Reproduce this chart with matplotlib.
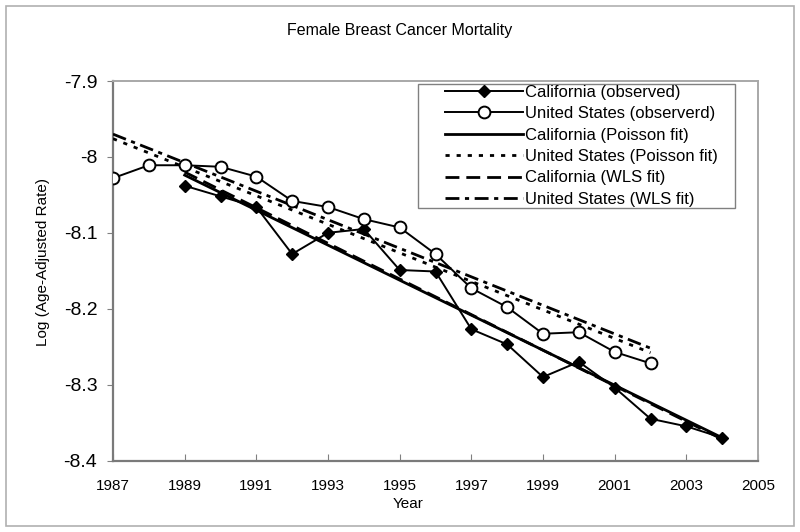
import numpy as np
import matplotlib
matplotlib.use("Agg")
import matplotlib.pyplot as plt
from matplotlib.patches import Rectangle

plt.rcParams['font.family'] = ['Liberation Sans', 'DejaVu Sans']

# observed log age-adjusted rates
us_years = [1987, 1988, 1989, 1990, 1991, 1992, 1993, 1994, 1995, 1996,
            1997, 1998, 1999, 2000, 2001, 2002]
us_obs = [-8.028, -8.011, -8.011, -8.013, -8.026, -8.058, -8.066, -8.082,
          -8.093, -8.128, -8.173, -8.198, -8.233, -8.231, -8.257, -8.272]

ca_years = [1989, 1990, 1991, 1992, 1993, 1994, 1995, 1996, 1997, 1998,
            1999, 2000, 2001, 2002, 2003, 2004]
ca_obs = [-8.038, -8.052, -8.066, -8.128, -8.100, -8.095, -8.149, -8.151,
          -8.227, -8.247, -8.290, -8.270, -8.304, -8.345, -8.355, -8.370]

# fitted lines (straight on the log scale), end points
us_fit_years = [1987, 2002]
us_poisson = [-7.976, -8.258]
us_wls = [-7.970, -8.252]
ca_fit_years = [1989, 2004]
ca_poisson = [-8.024, -8.370]
ca_wls = [-8.020, -8.372]

W, H = 800, 532
fig = plt.figure(figsize=(8, 5.32), dpi=100)
ax = fig.add_axes([113 / W, 1 - 460.5 / H, 645 / W, 379.5 / H])

ax.plot(ca_years, ca_obs, color='black', lw=1.4, marker='D', ms=6.5,
        mfc='black', mec='black', label='California (observed)', zorder=4)
ax.plot(us_years, us_obs, color='black', lw=1.4, marker='o', ms=8.5,
        mfc='white', mec='black', mew=1.4, label='United States (observerd)', zorder=5)
ax.plot(ca_fit_years, ca_poisson, color='black', lw=2.0, ls='-',
        label='California (Poisson fit)', zorder=3)
ax.plot(us_fit_years, us_poisson, color='black', lw=2.0, ls=(0, (1.5, 2.5)),
        label='United States (Poisson fit)', zorder=3)
ax.plot(ca_fit_years, ca_wls, color='black', lw=2.0, ls=(0, (5, 2.5)),
        label='California (WLS fit)', zorder=3)
ax.plot(us_fit_years, us_wls, color='black', lw=2.0, ls=(0, (5, 2, 1.5, 2)),
        label='United States (WLS fit)', zorder=3)

ax.set_xlim(1987, 2005)
ax.set_ylim(-8.4, -7.9)
ax.set_xticks(np.arange(1987, 2006, 2))
ax.set_yticks([-7.9, -8.0, -8.1, -8.2, -8.3, -8.4])
ax.set_yticklabels(['-7.9', '-8', '-8.1', '-8.2', '-8.3', '-8.4'])
ax.tick_params(axis='x', direction='in', length=5, labelsize=11, pad=13, color='#808080')
ax.tick_params(axis='y', direction='out', length=4.3, labelsize=14, pad=7, color='#808080')

for side in ['left', 'bottom']:
    ax.spines[side].set_color('#7a7a7a')
    ax.spines[side].set_linewidth(1.6)
for side in ['top', 'right']:
    ax.spines[side].set_color('#a8a8a8')
    ax.spines[side].set_linewidth(1.4)

ax.set_xlabel('Year', fontsize=11, va='center')
ax.xaxis.set_label_coords(0.457, -0.115)
ax.set_ylabel('Log (Age-Adjusted Rate)', fontsize=11, va='center')
ax.yaxis.set_label_coords(-0.1085, 0.523)
fig.text(0.5, 1 - 30 / H, 'Female Breast Cancer Mortality', ha='center', va='center', fontsize=11.5)

# legend box drawn by hand, entries placed inside it
fig.patches.append(Rectangle((418 / W, 1 - 208 / H), 317 / W, 124 / H,
                             transform=fig.transFigure, facecolor='white',
                             edgecolor='#808080', lw=1.0, zorder=6))
leg = fig.legend(*ax.get_legend_handles_labels(), loc='upper left',
                 bbox_to_anchor=(445 / W, 1 - 85 / H), fontsize=12,
                 handlelength=4.68, handletextpad=0.12, labelspacing=0.38,
                 borderpad=0, frameon=False, borderaxespad=0)
leg.set_zorder(7)

fig.patches.append(Rectangle((6 / W, 6 / H), 788 / W, 520 / H,
                             transform=fig.transFigure, fill=False,
                             edgecolor='#b0b0b0', lw=1.2))

fig.savefig('out.png', dpi=100)
